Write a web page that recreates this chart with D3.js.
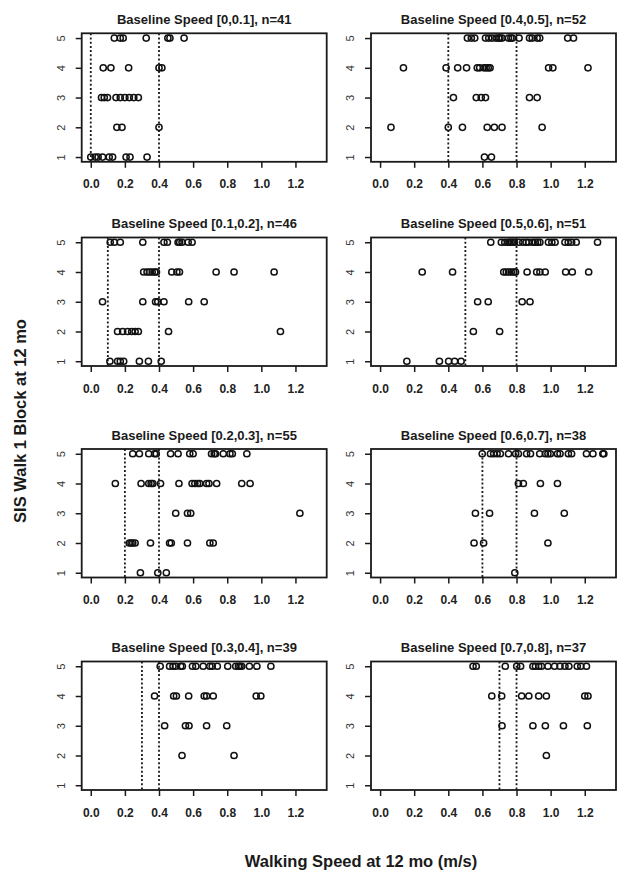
<!DOCTYPE html>
<html>
<head>
<meta charset="utf-8">
<script src="https://cdn.jsdelivr.net/npm/d3@7"></script>
<style>
  body { margin: 0; background: #fff; }
  svg { font-family: "Liberation Sans", Arial, sans-serif; }
  .panel-title { font-size: 13px; font-weight: bold; fill: #1a1a1a; }
  .axis text { font-size: 12px; fill: #1a1a1a; }
  .axis.x-axis text { font-weight: bold; fill: #222; }
  .axis.y-axis text { font-size: 11px; fill: #333; }
  .axis line { stroke: #1a1a1a; stroke-width: 1.5; }
  .frame { fill: none; stroke: #1a1a1a; stroke-width: 1.8; }
  .ref-line { stroke: #1a1a1a; stroke-width: 1.8; stroke-dasharray: 2,2.2; }
  .dot { fill: none; stroke: #111; stroke-width: 1.5; }
  .axis-title { font-size: 16.5px; font-weight: bold; fill: #1a1a1a; }
</style>
</head>
<body>
<svg id="chart"></svg>
<script>
// walking speed at 12 mo, grouped by SIS block score (index 0 = block 1 ... index 4 = block 5)
const bin00 = [
  [0, 0.026, 0.043, 0.069, 0.108, 0.128, 0.207, 0.23, 0.33],
  [0.153, 0.183, 0.4],
  [0.063, 0.079, 0.098, 0.148, 0.173, 0.2, 0.226, 0.252, 0.279],
  [0.073, 0.118, 0.222, 0.4, 0.417],
  [0.138, 0.173, 0.19, 0.325, 0.452, 0.464, 0.547]
];
const bin01 = [
  [0.112, 0.157, 0.173, 0.193, 0.285, 0.338, 0.413],
  [0.157, 0.187, 0.216, 0.24, 0.26, 0.279, 0.456, 1.112],
  [0.069, 0.305, 0.38, 0.393, 0.429, 0.574, 0.665],
  [0.31, 0.33, 0.345, 0.36, 0.375, 0.385, 0.475, 0.505, 0.52, 0.735, 0.84, 1.075],
  [0.114, 0.138, 0.173, 0.305, 0.429, 0.449, 0.512, 0.521, 0.535, 0.571, 0.594]
];
const bin02 = [
  [0.291, 0.393, 0.443],
  [0.226, 0.236, 0.246, 0.26, 0.35, 0.462, 0.472, 0.567, 0.698, 0.718],
  [0.498, 0.567, 0.586, 1.226],
  [0.144, 0.295, 0.34, 0.354, 0.364, 0.409, 0.517, 0.594, 0.61, 0.626, 0.639, 0.679, 0.693, 0.738, 0.885, 0.934],
  [0.246, 0.285, 0.34, 0.374, 0.384, 0.468, 0.512, 0.58, 0.6, 0.708, 0.724, 0.732, 0.777, 0.816, 0.83, 0.915]
];
const bin03 = [
  [],
  [0.535, 0.84],
  [0.433, 0.555, 0.576, 0.679, 0.797],
  [0.374, 0.486, 0.502, 0.574, 0.665, 0.679, 0.718, 0.97, 0.997],
  [0.407, 0.462, 0.482, 0.498, 0.527, 0.537, 0.596, 0.616, 0.659, 0.698, 0.712, 0.742, 0.803, 0.85, 0.866, 0.875, 0.885, 0.93, 0.974, 1.056]
];
const bin04 = [
  [0.612, 0.653],
  [0.064, 0.4, 0.483, 0.628, 0.67, 0.715, 0.95],
  [0.43, 0.564, 0.593, 0.618, 0.876, 0.921],
  [0.137, 0.387, 0.455, 0.507, 0.57, 0.584, 0.609, 0.622, 0.634, 0.645, 0.988, 1.013, 1.219],
  [0.512, 0.535, 0.555, 0.618, 0.637, 0.657, 0.68, 0.695, 0.703, 0.715, 0.753, 0.767, 0.776, 0.815, 0.876, 0.892, 0.921, 0.936, 1.1, 1.134]
];
const bin05 = [
  [0.157, 0.348, 0.402, 0.437, 0.475],
  [0.547, 0.701],
  [0.572, 0.634, 0.833, 0.879],
  [0.247, 0.425, 0.725, 0.74, 0.754, 0.769, 0.783, 0.794, 0.862, 0.918, 0.937, 0.968, 1.088, 1.127, 1.223],
  [0.649, 0.711, 0.731, 0.75, 0.76, 0.769, 0.779, 0.788, 0.814, 0.837, 0.856, 0.871, 0.895, 0.91, 0.924, 0.937, 0.987, 1.007, 1.026, 1.084, 1.103, 1.123, 1.15, 1.275]
];
const bin06 = [
  [0.79],
  [0.551, 0.607, 0.984],
  [0.559, 0.642, 0.905, 1.08],
  [0.811, 0.84, 0.94, 1.04],
  [0.599, 0.647, 0.666, 0.686, 0.705, 0.753, 0.795, 0.811, 0.859, 0.882, 0.936, 0.969, 0.984, 0.998, 1.04, 1.055, 1.104, 1.123, 1.21, 1.248, 1.306, 1.312]
];
const bin07 = [
  [],
  [0.975],
  [0.715, 0.896, 0.969, 1.075, 1.215],
  [0.655, 0.713, 0.83, 0.872, 0.93, 0.975, 1.2, 1.219],
  [0.545, 0.564, 0.734, 0.801, 0.824, 0.896, 0.911, 0.93, 0.946, 0.984, 1.023, 1.055, 1.084, 1.107, 1.156, 1.177, 1.21]
];

const panelBins = [bin00, bin01, bin02, bin03, bin04, bin05, bin06, bin07];
const binLabels = ['[0,0.1]', '[0.1,0.2]', '[0.2,0.3]', '[0.3,0.4]', '[0.4,0.5]', '[0.5,0.6]', '[0.6,0.7]', '[0.7,0.8]'];
const binCounts = [41, 46, 55, 39, 52, 51, 38, 37];
const refLines = [[0, 0.4], [0.1, 0.4], [0.2, 0.4], [0.3, 0.4], [0.4, 0.8], [0.5, 0.8], [0.6, 0.8], [0.7, 0.8]];
const speedTicks = [0, 0.2, 0.4, 0.6, 0.8, 1.0, 1.2];
const blockTicks = [1, 2, 3, 4, 5];
const speedLim = [0, 1.33];
const blockLim = [1, 5];

class SpeedPanel {

  /**
   * One small scatter panel: walking speed vs. SIS block score
   */
  constructor(_config, _rows, _label, _n, _lines) {
    this.config = {
      parent: _config.parent,
      left: _config.left,
      top: _config.top,
      width: _config.width || 245,
      height: _config.height || 128.5
    }
    this.rows = _rows;
    this.label = _label;
    this.n = _n;
    this.lines = _lines;
    this.initVis();
  }

  initVis() {
    let vis = this;

    // R style 4% padding around the limits
    const padX = (speedLim[1] - speedLim[0]) * 0.04;
    const padY = (blockLim[1] - blockLim[0]) * 0.04;

    vis.xScale = d3.scaleLinear()
        .domain([speedLim[0] - padX, speedLim[1] + padX])
        .range([0, vis.config.width]);

    vis.yScale = d3.scaleLinear()
        .domain([blockLim[0] - padY, blockLim[1] + padY])
        .range([vis.config.height, 0]);

    vis.xAxis = d3.axisBottom(vis.xScale)
        .tickValues(speedTicks)
        .tickFormat(d3.format('.1f'))
        .tickSize(6)
        .tickPadding(12);

    vis.yAxis = d3.axisLeft(vis.yScale)
        .tickValues(blockTicks)
        .tickFormat(d3.format('d'))
        .tickSize(6);

    vis.chart = vis.config.parent.append('g')
        .attr('transform', `translate(${vis.config.left},${vis.config.top})`);

    vis.renderVis();
  }

  renderVis() {
    let vis = this;

    const points = [];
    vis.rows.forEach((speeds, i) => {
      speeds.forEach(s => points.push({ speed: s, block: blockTicks[i] }));
    });

    vis.chart.selectAll('.ref-line')
        .data(vis.lines)
      .join('line')
        .attr('class', 'ref-line')
        .attr('x1', d => vis.xScale(d))
        .attr('x2', d => vis.xScale(d))
        .attr('y1', 0)
        .attr('y2', vis.config.height);

    vis.chart.selectAll('.dot')
        .data(points)
      .join('circle')
        .attr('class', 'dot')
        .attr('cx', d => vis.xScale(d.speed))
        .attr('cy', d => vis.yScale(d.block))
        .attr('r', 3.1);

    vis.chart.append('rect')
        .attr('class', 'frame')
        .attr('width', vis.config.width)
        .attr('height', vis.config.height);

    const xAxisG = vis.chart.append('g')
        .attr('class', 'axis x-axis')
        .attr('transform', `translate(0,${vis.config.height})`)
        .call(vis.xAxis);
    xAxisG.select('.domain').remove();

    const yAxisG = vis.chart.append('g')
        .attr('class', 'axis y-axis')
        .call(vis.yAxis);
    yAxisG.select('.domain').remove();
    yAxisG.selectAll('text')
        .attr('x', 0)
        .attr('dy', null)
        .attr('text-anchor', 'middle')
        .attr('transform', 'translate(-17,0) rotate(-90)');

    vis.chart.append('text')
        .attr('class', 'panel-title')
        .attr('x', vis.config.width / 2)
        .attr('y', -9.5)
        .attr('text-anchor', 'middle')
        .text(`Baseline Speed ${vis.label}, n=${vis.n}`);
  }
}

const svg = d3.select('#chart')
    .attr('width', 629)
    .attr('height', 879);

const colLefts = [81.7, 371];
const rowTops = [33.3, 237.5, 449, 661.5];

panelBins.forEach((rows, i) => {
  new SpeedPanel({
    parent: svg,
    left: colLefts[Math.floor(i / 4)],
    top: rowTops[i % 4]
  }, rows, binLabels[i], binCounts[i], refLines[i]);
});

svg.append('text')
    .attr('class', 'axis-title')
    .attr('text-anchor', 'middle')
    .attr('transform', 'translate(26,421) rotate(-90)')
    .text('SIS Walk 1 Block at 12 mo');

svg.append('text')
    .attr('class', 'axis-title')
    .attr('text-anchor', 'middle')
    .attr('x', 361)
    .attr('y', 867)
    .text('Walking Speed at 12 mo (m/s)');
</script>
</body>
</html>
